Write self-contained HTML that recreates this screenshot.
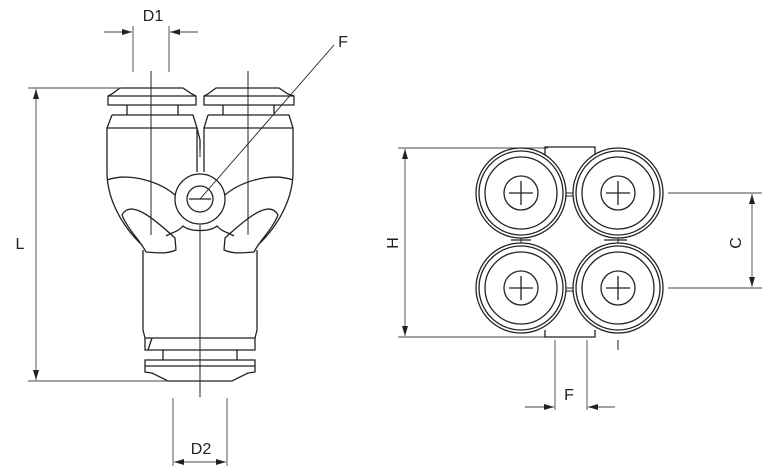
<!DOCTYPE html>
<html><head><meta charset="utf-8"><style>
html,body{margin:0;padding:0;background:#fff;width:770px;height:476px;overflow:hidden}
svg text{font-family:"Liberation Sans",sans-serif;font-size:16px;fill:#222}
</style></head><body>
<svg width="770" height="476" viewBox="0 0 770 476" xmlns="http://www.w3.org/2000/svg">
<defs>
<marker id="a" viewBox="0 0 10 6" refX="10" refY="3" markerWidth="10" markerHeight="6" orient="auto" markerUnits="userSpaceOnUse"><path d="M0,0L10,3L0,6z" fill="#222"/></marker>
<g id="c" fill="none" stroke="#222" stroke-width="1.3">
<circle r="45"/><circle r="42"/><circle r="36"/><circle r="17"/>
<path d="M-12,0H12M0,-12V12"/>
</g>
</defs>
<g fill="none" stroke="#222" stroke-width="1.3">
<path d="M120,88H183L192,94L196,96V105H108V96L112,94Z"/>
<path d="M108,96H196"/>
<path d="M216,88H279L288,94L294,96V105H204V96L208,94Z"/>
<path d="M204,96H294"/>
<path d="M127,105V115M178,105V115M223,105V115M274,105V115"/>
<path d="M112,115H193L197,128V172M107,172V128L112,115"/>
<path d="M107,128H197"/>
<path d="M208,115H289L293,128V172M204,172V128L208,115"/>
<path d="M204,128H293"/>
<path d="M197,128L200,140V150"/>
<path d="M107,172C107,195 118,222 142,245M293,172C293,195 282,222 258,245"/>
<path d="M107,180C130,172 160,182 175,195"/>
<path d="M293,180C270,172 240,182 225,195"/>
<path d="M122,215C130,200 150,215 175,238L176,250C165,255 152,252 146,252C140,240 128,230 122,215Z"/>
<path d="M278,215C270,200 250,215 225,238L224,250C235,255 248,252 254,252C260,240 272,230 278,215Z"/>
<path d="M166,236C172,232 178,232 183,226C190,232 210,232 217,226C222,232 228,232 234,236"/>
<circle cx="200" cy="199" r="25"/>
<circle cx="200" cy="199" r="13"/>
<path d="M189,199H211"/>
<path d="M143,250V330L145,338H255L257,330V250"/>
<path d="M145,338V350H255V338M148,350L152,338"/>
<path d="M163,350V360M237,350V360"/>
<path d="M145,360H255V372L248,373L232,381H168L152,373L145,372Z"/>
<path d="M145,366H255"/>
<path d="M151,71V235M248,71V235M200,225V397M200,150V157" stroke-width="1"/>
<path d="M200,199L334,45" stroke-width="0.9"/>
</g>
<g fill="none" stroke="#444" stroke-width="0.9">
<path d="M28,88H122M28,381H168"/>
<path d="M36,240V89" marker-end="url(#a)"/>
<path d="M36,240V380" marker-end="url(#a)"/>
<path d="M133,26V72M169,26V72"/>
<path d="M104,32H132" marker-end="url(#a)"/>
<path d="M198,32H170" marker-end="url(#a)"/>
<path d="M173,398V466M227,398V466"/>
<path d="M200,462H174" marker-end="url(#a)"/>
<path d="M200,462H226" marker-end="url(#a)"/>
<path d="M398,148H548M398,337H548"/>
<path d="M405,243V149" marker-end="url(#a)"/>
<path d="M405,243V336" marker-end="url(#a)"/>
<path d="M668,193H762M668,288H762"/>
<path d="M752,240V194" marker-end="url(#a)"/>
<path d="M752,240V287" marker-end="url(#a)"/>
<path d="M555,340V410M587,340V410"/>
<path d="M525,407H554" marker-end="url(#a)"/>
<path d="M615,407H588" marker-end="url(#a)"/>
</g>
<g fill="none" stroke="#222" stroke-width="1.3">
<path d="M545,155V147H595V155M545,330V337H595V330"/>
<path d="M511,240H531M604,240H627"/>
<path d="M566,193H573M566,196H573M566,288H573M566,291H573" stroke-width="1"/>
<path d="M521,238V243M618,238V243M618,340V350" stroke-width="1"/>
</g>
<use href="#c" x="521" y="193"/>
<use href="#c" x="618" y="193"/>
<use href="#c" x="521" y="288"/>
<use href="#c" x="618" y="288"/>
<text x="153" y="21" text-anchor="middle">D1</text>
<text x="343" y="47" text-anchor="middle">F</text>
<text x="20" y="249" text-anchor="middle">L</text>
<text x="201" y="454" text-anchor="middle">D2</text>
<text x="569" y="400" text-anchor="middle">F</text>
<text transform="translate(398,243) rotate(-90)" text-anchor="middle">H</text>
<text transform="translate(741,243) rotate(-90)" text-anchor="middle">C</text>
</svg>
</body></html>
